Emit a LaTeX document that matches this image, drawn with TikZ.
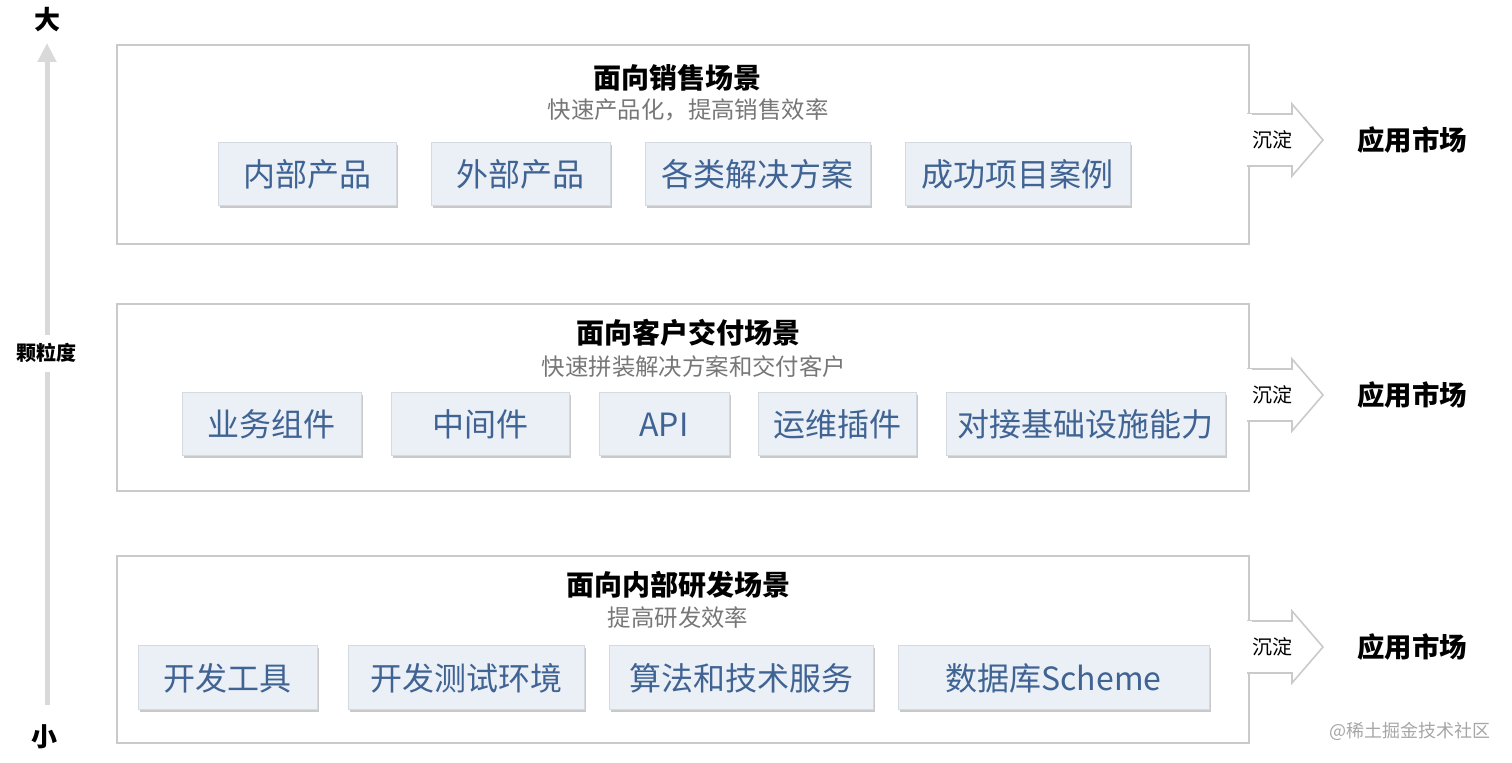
\documentclass[tikz,border=0pt]{standalone}
\usepackage{fontspec}
\setmainfont{Noto Sans CJK SC}
\usetikzlibrary{shadows,arrows.meta}
\definecolor{boxfill}{HTML}{EBEFF6}
\definecolor{boxline}{HTML}{D5DAE2}
\definecolor{boxtext}{HTML}{3F6393}
\definecolor{outline}{HTML}{CACACA}
\definecolor{subgray}{HTML}{777777}
\definecolor{axisgray}{HTML}{D9D9D9}
\tikzset{
  outerbox/.style={draw=outline, line width=1pt, fill=white, minimum height=#1, inner sep=0pt},
  ibox/.style={draw=boxline, line width=0.5pt, fill=boxfill, minimum height=31.5pt, inner sep=0pt,
    text=boxtext, font=\fontsize{16}{18}\selectfont,
    drop shadow={shadow xshift=0.8pt, shadow yshift=-1pt, opacity=0.35, fill=black!60}},
  titletext/.style={font=\fontsize{14}{16}\selectfont\bfseries},
  subtext/.style={text=subgray, font=\fontsize{11.7}{13}\selectfont},
  depo/.style={font=\fontsize{10}{12}\selectfont, inner sep=0pt},
  market/.style={font=\fontsize{13.7}{15}\selectfont\bfseries, inner sep=0pt},
  fatarrow/.style={draw=outline, line width=0.8pt, fill=white, line join=miter},
  axislabel/.style={font=\fontsize{13}{15}\selectfont\bfseries, inner sep=0pt}
}
\begin{document}
\begin{tikzpicture}[x=0.5pt,y=-0.5pt]
\useasboundingbox (0,0) rectangle (1512,763);
% outer boxes
\node[outerbox=99.5pt, minimum width=566pt] (o1) at (683,144.5) {};
\node[outerbox=93.5pt, minimum width=566pt] (o2) at (683,397.5) {};
\node[outerbox=93.5pt, minimum width=566pt] (o3) at (683,649.5) {};
% titles
\node[titletext] (t1) at (677,78) {面向销售场景};
\node[subtext] (s1) at (688,110) {快速产品化，提高销售效率};
\node[titletext] (t2) at (688,333) {面向客户交付场景};
\node[subtext] (s2) at (694,367) {快速拼装解决方案和交付客户};
\node[titletext] (t3) at (678,585) {面向内部研发场景};
\node[subtext] (s3) at (678,618) {提高研发效率};
% row 1
\node[ibox, minimum width=89pt] (a1) at (307,174.5) {内部产品};
\node[ibox, minimum width=89.5pt] (a2) at (520.5,174.5) {外部产品};
\node[ibox, minimum width=112.5pt] (a3) at (757.5,174.5) {各类解决方案};
\node[ibox, minimum width=112.5pt] (a4) at (1017.5,174.5) {成功项目案例};
% row 2
\node[ibox, minimum width=89.5pt] (b1) at (271.5,424.5) {业务组件};
\node[ibox, minimum width=89pt] (b2) at (480,424.5) {中间件};
\node[ibox, minimum width=65pt] (b3) at (664,424.5) {API};
\node[ibox, minimum width=79pt] (b4) at (837,424.5) {运维插件};
\node[ibox, minimum width=139.5pt] (b5) at (1085.5,424.5) {对接基础设施能力};
% row 3
\node[ibox, minimum width=89.5pt, minimum height=32pt] (c1) at (227.5,678) {开发工具};
\node[ibox, minimum width=118pt, minimum height=32pt] (c2) at (466,678) {开发测试环境};
\node[ibox, minimum width=132pt, minimum height=32pt] (c3) at (741,678) {算法和技术服务};
\node[ibox, minimum width=155.5pt, minimum height=32pt] (c4) at (1053.5,678) {数据库Scheme};
% fat arrows
\foreach \c/\n in {140/1,395/2,647/3}{
  \draw[fatarrow] (1247,\c-26) -- (1292,\c-26) -- (1292,\c-36) -- (1323,\c) -- (1292,\c+36) -- (1292,\c+26) -- (1247,\c+26);
  \fill[white] (1246,\c-25.5) rectangle (1252,\c+25.5);
  \node[depo] (d\n) at (1272,\c) {沉淀};
  \node[market] (m\n) at (1412,\c) {应用市场};
}
% axis
\node[axislabel] (big) at (47,20) {大};
\node[axislabel] (small) at (45,737) {小};
\node[font=\fontsize{10}{11}\selectfont\bfseries, inner sep=0pt] (gran) at (47,353) {颗粒度};
\coordinate (axbot) at (47,705);
\coordinate (axtop) at (47,43);
\draw[axisgray, line width=2.5pt] (axbot) -- (47,372);
\draw[axisgray, line width=2.5pt, -{Triangle[length=9.5pt,width=9pt]}] (47,335) -- (axtop);
% watermark
\node[text=black!35, font=\fontsize{9}{10}\selectfont, inner sep=0pt] (wm) at (1410,731) {@稀土掘金技术社区};
\end{tikzpicture}
\end{document}
